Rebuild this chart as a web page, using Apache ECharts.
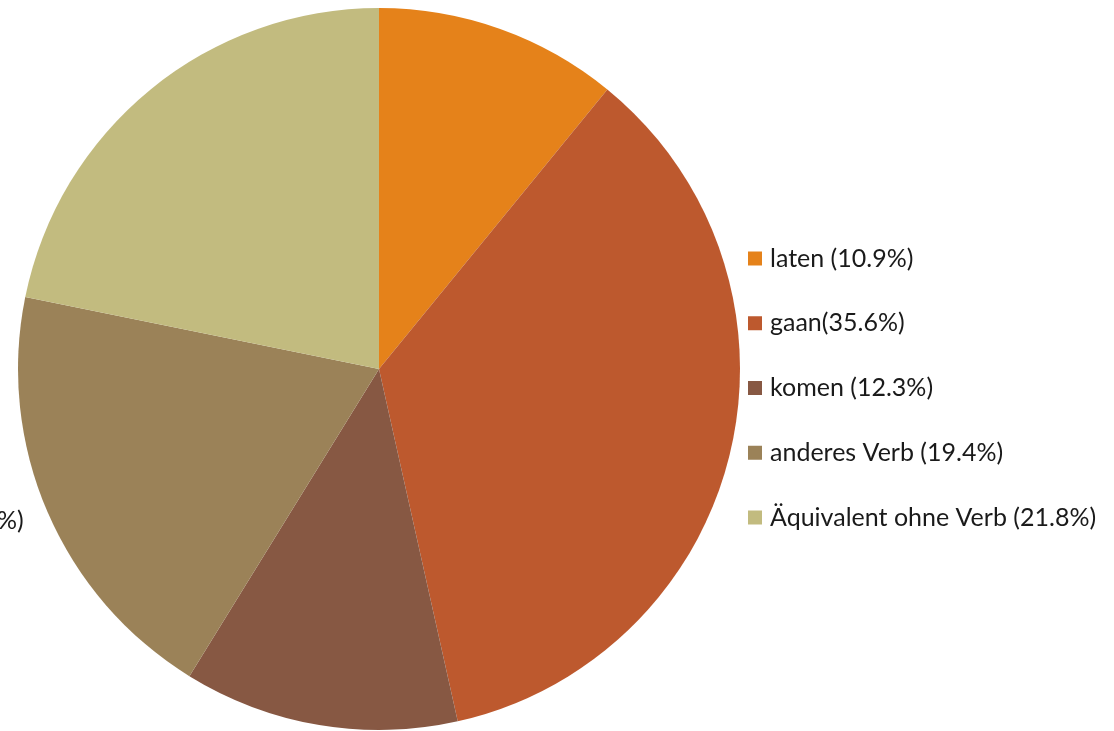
<!DOCTYPE html>
<html>
<head>
<meta charset="utf-8">
<script src="https://cdn.jsdelivr.net/npm/echarts@6/dist/echarts.min.js"></script>
<style>html,body{margin:0;padding:0;background:#fff;}#c{width:1114px;height:731px;}</style>
</head>
<body>
<div id="c"></div>
<script>
const categories = ["laten (10.9%)", "gaan(35.6%)", "komen (12.3%)", "anderes Verb (19.4%)", "Äquivalent ohne Verb (21.8%)"];
const values = [10.9, 35.6, 12.3, 19.4, 21.8];
const colors = ["#E5821A", "#BD592E", "#875843", "#9B8258", "#C2BB7F"];
const cutLabel = "%)";

const chart = echarts.init(document.getElementById('c'));
chart.setOption({
  animation: false,
  backgroundColor: '#fff',
  color: colors,
  legend: {
    orient: 'vertical',
    left: 748,
    top: 246,
    padding: 0,
    icon: 'rect',
    itemWidth: 14,
    itemHeight: 14,
    itemGap: 39.75,
    textStyle: { fontFamily: 'Lato', fontSize: 25, color: '#1a1a1a', lineHeight: 24, padding: [0, 0, 0, 3] },
    data: categories
  },
  graphic: [{
    type: 'text', left: -3, top: 508,
    style: { text: cutLabel, font: '25px Lato', fill: '#1a1a1a' }
  }],
  series: [{
    type: 'pie',
    center: [379, 369],
    radius: 361,
    startAngle: 90,
    clockwise: true,
    label: { show: false },
    labelLine: { show: false },
    emphasis: { disabled: true },
    itemStyle: { borderWidth: 0 },
    data: categories.map((c, i) => ({ name: c, value: values[i] }))
  }]
});
</script>
</body>
</html>
